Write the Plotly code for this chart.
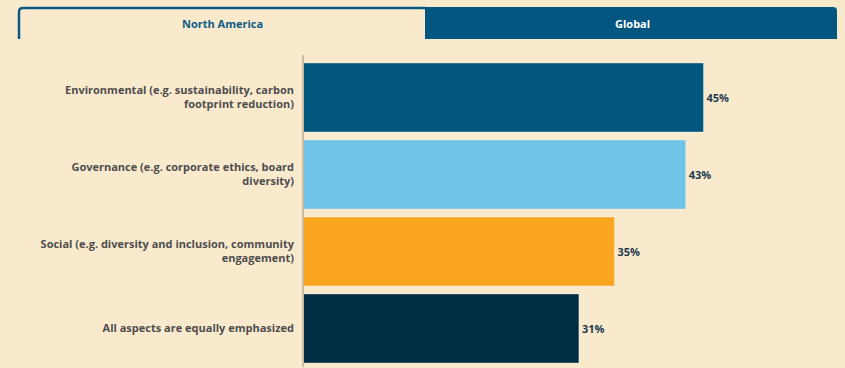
import plotly.graph_objects as go

# Survey data: which ESG aspect is emphasized most (North America)
categories = [
    "Environmental (e.g. sustainability, carbon<br>footprint reduction)",
    "Governance (e.g. corporate ethics, board<br>diversity)",
    "Social (e.g. diversity and inclusion, community<br>engagement)",
    "All aspects are equally emphasized",
]
values = [45, 43, 35, 31]
bar_colors = ["#02577F", "#6EC3E6", "#F9A51F", "#002D42"]
tab_labels = ["North America", "Global"]

BG = "#FAEACD"
W, H = 845, 368
M_L, M_R, M_T, M_B = 303, 8, 59, 1
PW, PH = W - M_L - M_R, H - M_T - M_B


def px(x):
    return (x - M_L) / PW


def py(y):
    return (H - M_B - y) / PH


fig = go.Figure(
    go.Bar(
        y=categories,
        x=values,
        orientation="h",
        marker=dict(color=bar_colors, line=dict(color="rgba(255,255,255,0.35)", width=1)),
        text=[f"{v}%" for v in values],
        textposition="outside",
        textfont=dict(family="Open Sans", size=11, color="#1C3A4E", weight=700),
        cliponaxis=False,
        hoverinfo="skip",
    )
)

fig.update_yaxes(
    autorange="reversed",
    showgrid=False,
    showline=False,
    zeroline=False,
    ticks="",
    ticklabelstandoff=8,
    tickfont=dict(family="Open Sans", size=11, color="#4D4D4D", weight=700),
)
fig.update_xaxes(range=[0, 60], visible=False, fixedrange=True)

shapes = [
    # axis line
    dict(type="line", xref="paper", yref="paper", x0=0, x1=0, y0=0, y1=py(55),
         line=dict(color="#C9BDA6", width=2), layer="above"),
    # global tab (filled)
    dict(type="path", xref="paper", yref="paper",
         path=(f"M {px(425)} {py(39)} L {px(425)} {py(7)} L {px(833)} {py(7)} "
               f"Q {px(837)} {py(7)} {px(837)} {py(11)} L {px(837)} {py(39)} Z"),
         fillcolor="#02567F", line=dict(width=0)),
    # active tab outline
    dict(type="path", xref="paper", yref="paper",
         path=(f"M {px(19)} {py(39)} L {px(19)} {py(12)} Q {px(19)} {py(8)} {px(23)} {py(8)} "
               f"L {px(426)} {py(8)}"),
         line=dict(color="#0A5A85", width=2.5)),
]

annotations = [
    dict(xref="paper", yref="paper", x=px(222), y=py(23), xanchor="center", yanchor="middle",
         text=tab_labels[0], showarrow=False,
         font=dict(family="Open Sans", size=11, color="#0C5A86", weight=700)),
    dict(xref="paper", yref="paper", x=px(632), y=py(23), xanchor="center", yanchor="middle",
         text=tab_labels[1], showarrow=False,
         font=dict(family="Open Sans", size=11, color="#FFFFFF", weight=700)),
]

fig.update_layout(
    width=W,
    height=H,
    margin=dict(l=M_L, r=M_R, t=M_T, b=M_B),
    paper_bgcolor=BG,
    plot_bgcolor=BG,
    bargap=8 / 77,
    showlegend=False,
    shapes=shapes,
    annotations=annotations,
)

fig.write_html("out.html", config={"displayModeBar": False})
